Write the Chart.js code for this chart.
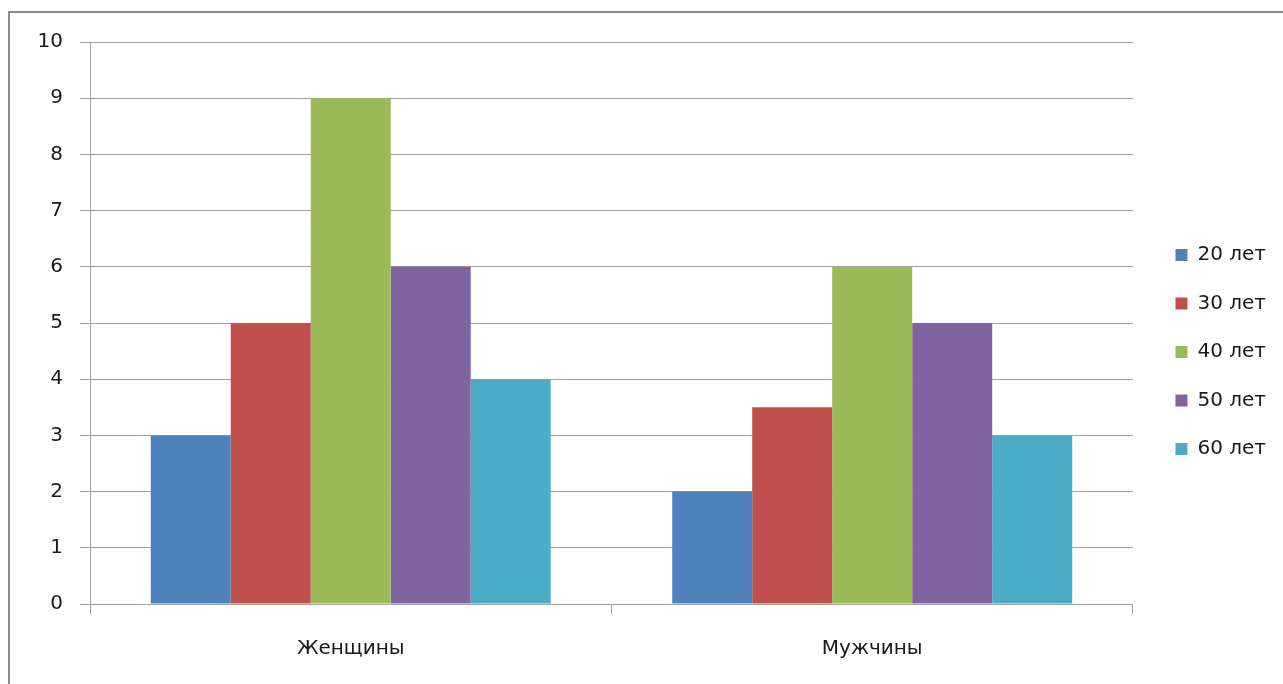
<!DOCTYPE html>
<html>
<head>
<meta charset="utf-8">
<script src="https://cdn.jsdelivr.net/npm/chart.js@4"></script>
<style>
  html, body { margin: 0; padding: 0; background: #fff; overflow: hidden; }
  #wrap { position: relative; width: 1283px; height: 684px; }
  #frame { position: absolute; left: 8px; top: 11px; width: 1300px; height: 700px; border: 2px solid #8c8c8c; box-sizing: border-box; }
  canvas { position: absolute; left: 0; top: 0; }
</style>
</head>
<body>
<div id="wrap">
  <div id="frame"></div>
  <canvas id="c" width="1283" height="684"></canvas>
</div>
<script>
const categories = ['Женщины', 'Мужчины'];
const seriesNames = ['20 лет', '30 лет', '40 лет', '50 лет', '60 лет'];
const age20 = [3, 2];
const age30 = [5, 3.5];
const age40 = [9, 6];
const age50 = [6, 5];
const age60 = [4, 3];
const yTicks = [0, 1, 2, 3, 4, 5, 6, 7, 8, 9, 10];
const colors = ['#4F81BD', '#C0504D', '#9BBB59', '#8064A2', '#4BACC6'];

const seriesValues = [age20, age30, age40, age50, age60];

Chart.defaults.font.family = "'DejaVu Sans', sans-serif";
Chart.defaults.font.size = 20;
Chart.defaults.color = '#1a1a1a';

const shiftLegend = {
  id: 'shiftLegend',
  afterLayout(chart) {
    const lg = chart.legend;
    if (!lg) return;
    lg.left += 14; lg.right += 14;
    lg.top -= 11; lg.bottom -= 11;
  }
};

new Chart(document.getElementById('c'), {
  type: 'bar',
  data: {
    labels: categories,
    datasets: seriesNames.map((name, i) => ({
      label: name,
      data: seriesValues[i],
      backgroundColor: colors[i],
      borderWidth: 0,
      categoryPercentage: 0.767,
      barPercentage: 1.0
    }))
  },
  options: {
    responsive: false,
    animation: false,
    layout: { padding: { top: 42, right: 21, bottom: 0, left: 0 } },
    plugins: {
      tooltip: { enabled: false },
      legend: {
        position: 'right',
        labels: {
          boxWidth: 12,
          boxHeight: 12,
          padding: 28.5,
          font: { size: 20 },
          color: '#1a1a1a'
        }
      }
    },
    scales: {
      x: {
        grid: { display: true, drawOnChartArea: false, color: '#a0a0a0', tickLength: 10, offset: true },
        border: { color: '#a0a0a0' },
        ticks: { padding: 23, font: { size: 20 }, color: '#1a1a1a' },
        afterFit(scale) { scale.height = 80; }
      },
      y: {
        min: 0,
        max: 10,
        afterBuildTicks(scale) { scale.ticks = yTicks.map(v => ({ value: v })); },
        grid: { color: '#a0a0a0', tickLength: 10 },
        border: { color: '#a0a0a0' },
        ticks: { padding: 17, font: { size: 20 }, color: '#1a1a1a' },
        afterFit(scale) { scale.width = 90; }
      }
    }
  },
  plugins: [shiftLegend]
});
</script>
</body>
</html>
